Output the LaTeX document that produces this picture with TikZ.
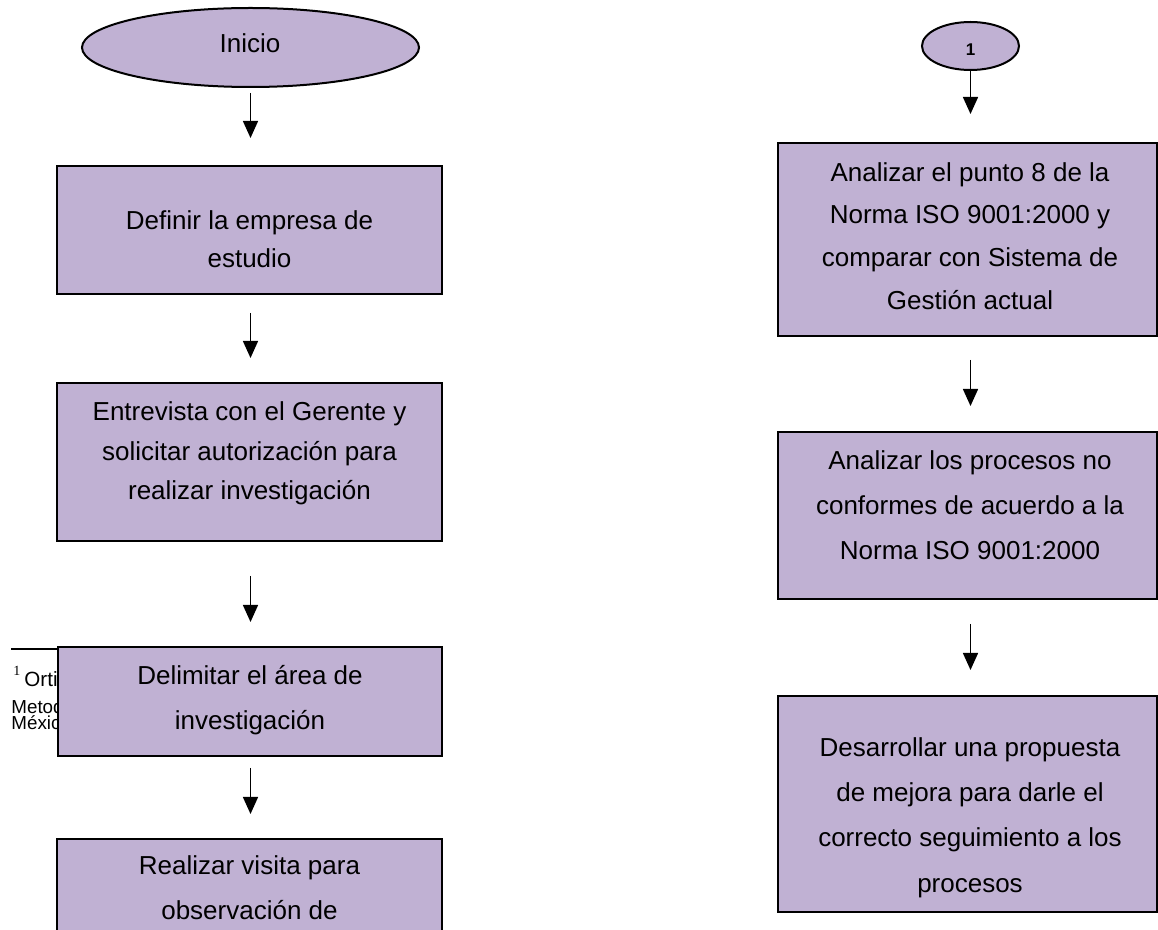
\documentclass[tikz,border=0pt]{standalone}
\usepackage{fontspec}
\setmainfont{Liberation Sans}
\newfontfamily\seriffont{Liberation Serif}
\usetikzlibrary{shapes.geometric,arrows.meta}
\definecolor{lila}{RGB}{192,177,211}
\begin{document}
\begin{tikzpicture}[x=0.5pt,y=-0.5pt,
  stepbox/.style={rectangle,draw=black,line width=1pt,fill=lila,inner sep=0pt},
  startnode/.style={ellipse,draw=black,line width=1pt,fill=lila,inner sep=0pt},
  label13/.style={align=center,inner sep=0pt,font=\fontsize{13}{#1}\selectfont},
  arr/.style={line width=0.75pt,-{Triangle[length=8.5pt,width=7.5pt]}},
  foot/.style={anchor=base west,inner sep=0pt}]
\useasboundingbox (0,0) rectangle (1158,930);
\clip (0,0) rectangle (1158,930);

% footnote partly hidden behind the third step
\draw[line width=0.75pt] (11,649) -- (60,649);
\node[foot] (fnmark) at (13,676) {\seriffont\fontsize{7}{8}\selectfont 1};
\node[foot] (fn1) at (24,687) {\fontsize{10.3}{12}\selectfont Ortiz};
\node[foot] (fn2) at (11,714) {\fontsize{9.4}{10}\selectfont Metodología};
\node[foot] (fn3) at (11,730) {\fontsize{9.4}{10}\selectfont México};

% left column
\node[startnode,minimum width=168.5pt,minimum height=39.5pt] (e0) at (250.5,47.5) {};
\node[label13=19pt] (t0) at (250,43) {Inicio};

\node[stepbox,minimum width=192.5pt,minimum height=64pt] (b1) at (249.5,230) {};
\node[label13=19pt] (t1) at (249.5,239) {Definir la empresa de\\estudio};

\node[stepbox,minimum width=192.5pt,minimum height=79pt] (b2) at (249.5,462) {};
\node[label13=19.7pt] (t2) at (249.5,453.5) {Entrevista con el Gerente y\\solicitar autorización para\\realizar investigación};

\node[stepbox,minimum width=192pt,minimum height=54.5pt] (b3) at (250,701.5) {};
\node[label13=22.5pt] (t3) at (250,700.5) {Delimitar el área de\\investigación};

\node[stepbox,minimum width=192.5pt,minimum height=80pt] (b4) at (249.5,919) {};
\node[label13=22.5pt] (t4) at (249.5,887.5) {Realizar visita para\\observación de};

\draw[arr,shorten <=2.5pt,shorten >=13.5pt] (e0.south) -- (b1.north -| e0.south);
\draw[arr,shorten <=9pt,shorten >=12pt] (b1.south -| e0.south) -- (b2.north -| e0.south);
\draw[arr,shorten <=17pt,shorten >=12pt] (b2.south -| e0.south) -- (b3.north -| e0.south);
\draw[arr,shorten <=5.5pt,shorten >=12pt] (b3.south -| e0.south) -- (b4.north -| e0.south);

% right column
\node[startnode,minimum width=48.5pt,minimum height=24pt] (e1) at (970.5,46) {};
\node[inner sep=0pt,font=\fontsize{8.5}{9}\selectfont\bfseries] (n1) at (970.5,50) {1};

\node[stepbox,minimum width=189.5pt,minimum height=96.5pt] (r1) at (967.5,239.5) {};
\node[label13=21.3pt] (s1) at (970,236) {Analizar el punto 8 de la\\Norma ISO 9001:2000 y\\comparar con Sistema de\\Gestión actual};

\node[stepbox,minimum width=189.5pt,minimum height=83.5pt] (r2) at (967.5,515.5) {};
\node[label13=22.5pt] (s2) at (970,505) {Analizar los procesos no\\conformes de acuerdo a la\\Norma ISO 9001:2000};

\node[stepbox,minimum width=189.5pt,minimum height=108pt] (r3) at (967.5,804) {};
\node[label13=22.6pt] (s3) at (970,817.5) {Desarrollar una propuesta\\de mejora para darle el\\correcto seguimiento a los\\procesos};

\draw[arr,shorten >=14pt] (e1.south) -- (r1.north -| e1.south);
\draw[arr,shorten <=11.5pt,shorten >=12.5pt] (r1.south -| e1.south) -- (r2.north -| e1.south);
\draw[arr,shorten <=12pt,shorten >=12.5pt] (r2.south -| e1.south) -- (r3.north -| e1.south);
\end{tikzpicture}
\end{document}
